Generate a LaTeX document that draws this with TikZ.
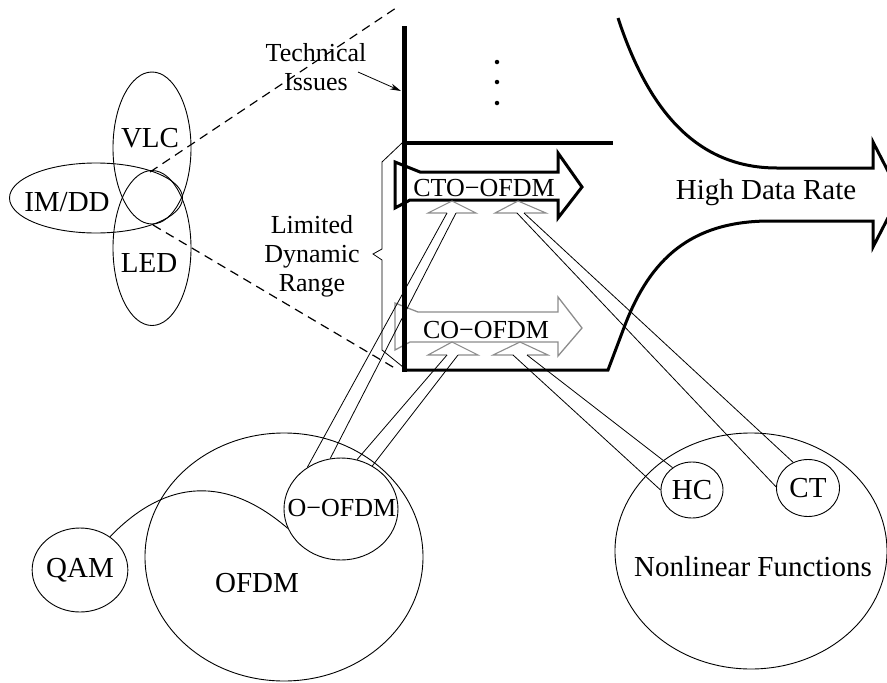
\documentclass[tikz,border=0pt]{standalone}
\usepackage{fontspec}
\setmainfont{Liberation Serif}
\usetikzlibrary{shapes.geometric,arrows.meta,calc}
\begin{document}
\begin{tikzpicture}[x=1pt,y=-1pt,
  ell/.style={draw, ellipse, line width=0.9pt, inner sep=0pt},
  big/.style={font=\fontsize{29}{31}\selectfont, inner sep=0pt},
  small/.style={font=\fontsize{26}{29}\selectfont, inner sep=0pt, align=center},
  grayhead/.style={draw=black!45, line width=1.1pt, line join=miter},
  shaft/.style={line width=0.8pt},
  dashline/.style={line width=1.2pt, dash pattern=on 9pt off 6pt},
  heavy/.style={line width=3pt, line join=miter, miter limit=20},
]
\useasboundingbox (0,0) rectangle (887,683);
% Venn ellipses
\node[ell, minimum width=78pt, minimum height=152pt] (vlc) at (152,148) {};
\node[ell, minimum width=78pt, minimum height=155pt] (led) at (152,248) {};
\node[ell, minimum width=173pt, minimum height=70pt] (imdd) at (96,198) {};
\node[big] (vlcT) at (150,138) {VLC};
\node[big] (ledT) at (149,263) {LED};
\node[big] (imddT) at (67,202) {IM/DD};
% bottom-left circles
\node[ell, minimum width=92pt, minimum height=84pt, big] (qam) at (80,570) {QAM};
\node[ell, minimum width=278pt, minimum height=248pt] (ofdm) at (284,557) {};
\node[big] (ofdmT) at (257,583) {OFDM};
\node[ell, minimum width=114pt, minimum height=102pt] (oofdm) at (341,509) {};
\node[small] (oofdmT) at (342,508) {O−OFDM};
% bottom-right circles
\node[ell, minimum width=272pt, minimum height=236pt] (nlf) at (751,551) {};
\node[big] (nlfT) at (753,567) {Nonlinear Functions};
\node[ell, minimum width=62pt, minimum height=56pt, big] (hc) at (692,490) {HC};
\node[ell, minimum width=63pt, minimum height=57pt, big] (ct) at (808,488) {CT};
% QAM to O-OFDM curve
\draw[line width=0.9pt] (qam.48) .. controls (160,485) and (220,470) .. (oofdm.200);
% coordinates
\coordinate (lensTop) at (150,172);
\coordinate (lensBot) at (153,225);
\coordinate (barTop) at (404.5,26);
\coordinate (barBot) at (404.5,372);
\coordinate (dashTop) at (396,8);
\coordinate (dashBot) at (398,370);
% dashed lines
\draw[dashline] (lensTop) -- (dashTop);
\draw[dashline] (lensBot) -- (dashBot);
% labels left of bar
\node[small] (ti) at (316,67) {Technical\\Issues};
\node[small] (ldr) at (312,256) {Limited\\Dynamic\\Range};
\coordinate (tiS) at (358,72);
\coordinate (tiE) at (401,91);
\draw[line width=0.8pt, -{Stealth[length=11pt,width=6pt]}] (tiS) -- (tiE);
% brace
\draw[line width=0.8pt, line join=miter] (402,143) -- (382,162) -- (382,249) -- (373,254) -- (382,260) -- (382,350) -- (403,367);
% dots
\node[circle, fill, inner sep=0pt, minimum size=4.5pt] (d1) at (497,62) {};
\node[circle, fill, inner sep=0pt, minimum size=4.5pt] (d2) at (497,82) {};
\node[circle, fill, inner sep=0pt, minimum size=4.5pt] (d3) at (497,103) {};
% CO-OFDM gray arrow
\draw[draw=black!45, line width=1.3pt, line join=miter] (395,303) -- (418,312) -- (558,312) -- (558,297) -- (582,328) -- (558,356) -- (558,342) -- (410,342) -- (395,350) -- cycle;
\node[small] (co) at (486,330) {CO−OFDM};
% CTO-OFDM black arrow
\draw[heavy] (395,162) -- (420,172) -- (558,172) -- (558,153) -- (582,187) -- (558,218) -- (558,200) -- (410,200) -- (395,208) -- cycle;
\node[small] (cto) at (484,188) {CTO−OFDM};
% High data rate outline
\draw[heavy] (618,18) .. controls (645,100) and (690,168) .. (777,168) -- (873,168) -- (873,142) -- (900,194.5) -- (873,247) -- (873,221) -- (770,221) .. controls (690,221) and (650,260) .. (625,325) -- (608,370) -- (404,370);
\node[big] (hdr) at (766,193) {High Data Rate};
% thick bar lines
\draw[line width=3.5pt] (404,143) -- (613,143);
\draw[line width=5pt] (barTop) -- (barBot);
% double-line arrows: heads
\coordinate (a1L) at (447,213); \coordinate (a1R) at (456,213);
\coordinate (a2L) at (517,213); \coordinate (a2R) at (524,213);
\coordinate (b1L) at (447,355); \coordinate (b1R) at (458,355);
\coordinate (b2L) at (513,355); \coordinate (b2R) at (527,355);
\draw[grayhead] (a1L) -- (428,213) -- (452,201) -- (476,213) -- (a1R);
\draw[grayhead] (a2L) -- (495,213) -- (518,201) -- (546,213) -- (a2R);
\draw[grayhead] (b1L) -- (428,355) -- (452,342) -- (478,355) -- (b1R);
\draw[grayhead] (b2L) -- (493,355) -- (520,342) -- (548,355) -- (b2R);
% shafts
\draw[shaft] (oofdm.129) -- (a1L);
\draw[shaft] (oofdm.102) -- (a1R);
\draw[shaft] (oofdm.72) -- (b1L);
\draw[shaft] (oofdm.54) -- (b1R);
\draw[shaft] (ct.178) -- (a2L);
\draw[shaft] (ct.120) -- (a2R);
\draw[shaft] (hc.180) -- (b2L);
\draw[shaft] (hc.131) -- (b2R);
\end{tikzpicture}
\end{document}
